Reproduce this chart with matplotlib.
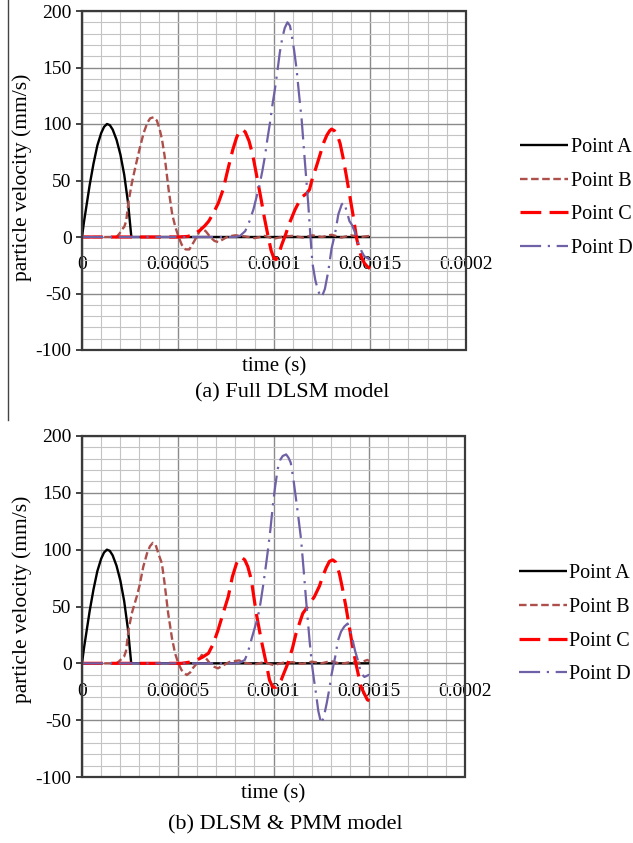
import numpy as np
import matplotlib.pyplot as plt
from matplotlib.lines import Line2D
from matplotlib.patches import Rectangle
from matplotlib.ticker import MultipleLocator

plt.rcParams['font.family'] = ['Liberation Serif', 'DejaVu Serif']
plt.rcParams['axes.unicode_minus'] = False

us = 1e-6  # times below are listed in microseconds

# Point A - same pulse in both models
a_t = np.array([0, 1, 2, 4, 6, 8, 10, 11.5, 13, 14.5, 16, 18, 20, 22, 24, 25.7, 30, 60, 100, 150]) * us
a_v = [0, 13, 24, 46, 65, 81, 92, 97.5, 100, 99, 95, 86, 73, 55, 30, 0, 0, 0, 0, 0]

# (a) Full DLSM model
b1_t = np.array([0, 18, 19.5, 21, 22, 23, 24.3, 26, 27.8, 30, 32.1, 34, 35.5, 37.3, 39, 40.5,
                 41.7, 43, 45.1, 47, 48.6, 50.3, 52, 54, 55.9, 58, 60, 62.2, 64.5, 66.8, 69,
                 71, 73.5, 76, 80, 85, 90, 95, 100, 105, 110, 115, 120, 125, 130, 135, 140,
                 145, 150]) * us
b1_v = [0, 0, 3, 7, 9, 14, 32, 48, 62, 78, 92, 101, 105, 106, 103, 95, 86, 72, 42, 20, 9, 0,
        -7, -11, -11, -5, 1, 8, 5, 0, -3.5, -4.5, -2, 0.5, 1.5, 0.5, -1, 1, -1.5, 0.5, 1,
        -0.5, 1.5, 0, 2, -0.5, 1.5, 0, 1]

c1_t = np.array([0, 50, 55, 58, 61.5, 64, 66, 68.4, 71, 73.5, 76, 78.5, 80.5, 82, 83.5, 85,
                 87, 89, 91, 93, 95, 97, 98.5, 100, 101, 102.5, 104, 106, 108, 110.9, 113,
                 115, 117, 118.5, 120, 122, 124, 126, 127.5, 129, 130, 131.5, 133, 134.4,
                 136, 137.8, 139.5, 141.3, 143, 144.5, 145.6, 147, 148.5, 150]) * us
c1_v = [0, 0, 0.5, 2, 6, 10, 14, 21, 30, 42, 60, 77, 88, 93.5, 95, 93, 85, 72, 54, 36, 17,
        0, -12, -19, -20, -15, -7, 2, 12, 24, 31, 36, 38.6, 42, 52, 62, 73, 84, 90, 94,
        95.5, 94, 90, 83, 70, 53, 36, 18, -1, -12, -18, -23, -26, -28]

d1_t = np.array([0, 80, 82.3, 85, 87, 89.3, 91, 92.7, 94, 95.3, 96.5, 97.9, 99, 100.5, 101.8,
                 103, 104.3, 105.6, 107, 108.3, 109, 110.5, 111.8, 113, 114.4, 116, 117.8,
                 119, 120, 121.5, 123, 124.8, 126.5, 128.3, 130, 131.8, 133.5, 135.3, 136.5,
                 138, 139.3, 140.5, 142, 144, 145.7, 147, 150]) * us
d1_v = [0, 0, 1, 5.2, 13, 24.5, 36, 48, 59, 71.6, 86, 101, 115, 131, 147, 163, 176, 185, 190,
        187, 181, 165, 148, 127, 104, 68.5, 30, 0, -23, -38, -48, -53.4, -46, -30, -10, 3,
        20, 29, 30.5, 22, 14, 11, 5, -6, -13, -17, -20]

# (b) DLSM & PMM model
b2_t = np.array([0, 18, 19.5, 21, 22, 23, 24.3, 26, 28.6, 30, 32, 34, 35.5, 37, 38.5, 40,
                 41.7, 43, 45, 47, 48.6, 50.3, 52, 54.7, 56.5, 58, 60, 62.5, 64.5, 66.8, 69,
                 71, 73.5, 77, 82, 85, 90, 95, 100, 105, 110, 115, 120, 125, 130, 135, 140,
                 145, 149, 150]) * us
b2_v = [0, 0, 2, 4.5, 6, 11, 29.4, 44, 58.8, 68, 85, 97, 103, 106, 104, 96, 88, 72, 44, 22,
        8.8, 0, -6, -10.3, -8, -4, 0, 7.4, 5, 0, -3, -4.4, -2, 1.2, 2.6, 0.5, -1, 1, -1.5,
        0.5, 1, -0.5, 1.5, 0, 2, -0.5, 1, 0.5, 3, 2]

c2_t = np.array([0, 52, 56, 60, 63, 66, 68.5, 71, 73.5, 76.4, 78.5, 80.7, 82.3, 83.5, 85,
                 86.6, 88.4, 91, 93.6, 96.2, 97.9, 99.6, 101.5, 104, 107.5, 110, 111.8,
                 115.3, 117.9, 121.4, 124, 125.7, 127.5, 129.2, 130.9, 132.5, 134.4, 136,
                 137.8, 139.5, 141.3, 143, 145.7, 147.5, 149, 150]) * us
c2_v = [0, 0, 1, 3, 5.5, 8.8, 17, 29, 43, 58.8, 76, 88, 92.5, 93, 91, 85, 73.7, 44, 20.5,
        0, -14.7, -21, -21, -14.7, 0, 14, 26.5, 44, 50, 58.8, 68, 76.5, 84, 89.7, 91, 89,
        79, 66, 50, 33, 14.7, 0, -20.6, -27, -32, -33]

d2_t = np.array([0, 80, 82.3, 85, 86.5, 88.4, 90, 91.9, 93.2, 94.5, 95.8, 97.1, 98.4, 99.6,
                 100.9, 102.2, 103.5, 104.8, 106.6, 107.8, 109, 110.4, 111.8, 113.1, 114.4,
                 115.7, 117, 118.8, 120, 121.1, 122.2, 123.4, 124.9, 126.3, 127.8, 129,
                 130.3, 131.5, 132.5, 133.6, 135.3, 137, 138.7, 140.1, 141.3, 142.6, 144,
                 145.7, 147.5, 150]) * us
d2_v = [0, 0, 0.5, 3, 9, 20.6, 30, 41, 53, 67.4, 83, 99.7, 118, 138, 156, 171, 179, 182.4,
        183.8, 181, 176.5, 162, 144, 127, 109, 83, 56, 20.6, 0, -14, -26.5, -42, -53,
        -47, -35, -24, -10, 0, 8, 19.8, 28, 32.4, 35, 29, 20.6, 11, 3, -8.8, -12, -10]

tick_labels_x = ['0', '0.00005', '0.0001', '0.00015', '0.0002']
tick_values_x = [0, 0.00005, 0.0001, 0.00015, 0.0002]
series_names = ['Point A', 'Point B', 'Point C', 'Point D']

fig = plt.figure(figsize=(6.33, 8.43), dpi=100)
W, H = 633, 843


def draw_panel(ax, curves, caption, cap_xy, ylab_y):
    ax.plot(a_t, a_v, color='black', lw=1.7, solid_capstyle='butt', zorder=3,
            label=series_names[0])
    ax.plot(curves[0][0], curves[0][1], color='#ad4f4b', lw=1.7, dashes=(3.2, 1.5),
            zorder=4, label=series_names[1])
    ax.plot(curves[1][0], curves[1][1], color='#ff0000', lw=2.3, dashes=(6.5, 2.6),
            zorder=5, label=series_names[2])
    ax.plot(curves[2][0], curves[2][1], color='#7060a6', lw=1.6, dashes=(9.5, 3, 1, 3),
            zorder=6, label=series_names[3])

    ax.set_xlim(0, 0.0002)
    ax.set_ylim(-100, 200)
    ax.set_axisbelow(True)
    ax.xaxis.set_major_locator(MultipleLocator(0.00005))
    ax.xaxis.set_minor_locator(MultipleLocator(0.00001))
    ax.yaxis.set_major_locator(MultipleLocator(50))
    ax.yaxis.set_minor_locator(MultipleLocator(10))
    ax.grid(which='major', color='#8a8a8a', lw=1.0)
    ax.grid(which='minor', color='#c4c4c4', lw=0.8)

    ax.set_xticks(tick_values_x)
    ax.set_xticklabels(tick_labels_x)
    ax.spines['bottom'].set_position(('data', 0))
    ax.spines['bottom'].set_visible(False)
    ax.spines['top'].set_visible(False)
    ax.spines['right'].set_visible(False)
    ax.spines['left'].set_color('#222222')
    ax.spines['left'].set_linewidth(1.5)
    ax.tick_params(axis='x', which='both', length=0, pad=14, labelsize=14)
    ax.tick_params(axis='y', which='major', length=4.5, width=1.2, color='#222222',
                   pad=3, labelsize=14)
    ax.tick_params(axis='y', which='minor', length=0)
    ax.add_patch(Rectangle((0, 0), 1, 1, transform=ax.transAxes, fill=False,
                           edgecolor='#3a3a3a', lw=1.6, clip_on=False, zorder=7))

    ax.set_xlabel('time (s)', fontsize=15, va='center')
    ax.xaxis.set_label_coords(0.5, -0.05)
    ax.set_ylabel('particle velocity (mm/s)', fontsize=15.5, va='center')
    ax.yaxis.set_label_coords(-60 / 384, ylab_y)

    ax.legend(loc='center left', bbox_to_anchor=(1.14, 0.448), frameon=False,
              fontsize=14.5, handlelength=2.4, handletextpad=0.12, labelspacing=0.72,
              borderpad=0, borderaxespad=0)
    fig.text(cap_xy[0] / W, 1 - cap_xy[1] / H, caption, fontsize=16,
             ha='center', va='center')


ax_a = fig.add_axes([82 / W, 1 - 350 / H, 384 / W, 339 / H])
draw_panel(ax_a, [(b1_t, b1_v), (c1_t, c1_v), (d1_t, d1_v)],
           '(a) Full DLSM model', (292, 393), 0.509)

ax_b = fig.add_axes([82 / W, 1 - 777 / H, 383 / W, 341 / H])
draw_panel(ax_b, [(b2_t, b2_v), (c2_t, c2_v), (d2_t, d2_v)],
           '(b) DLSM & PMM model', (285, 825), 0.522)

# left rule beside the upper panel
fig.add_artist(Line2D([8 / W, 8 / W], [1, 1 - 420 / H], transform=fig.transFigure,
                      color='#444444', lw=1.0))

fig.savefig('out.png', dpi=100)
